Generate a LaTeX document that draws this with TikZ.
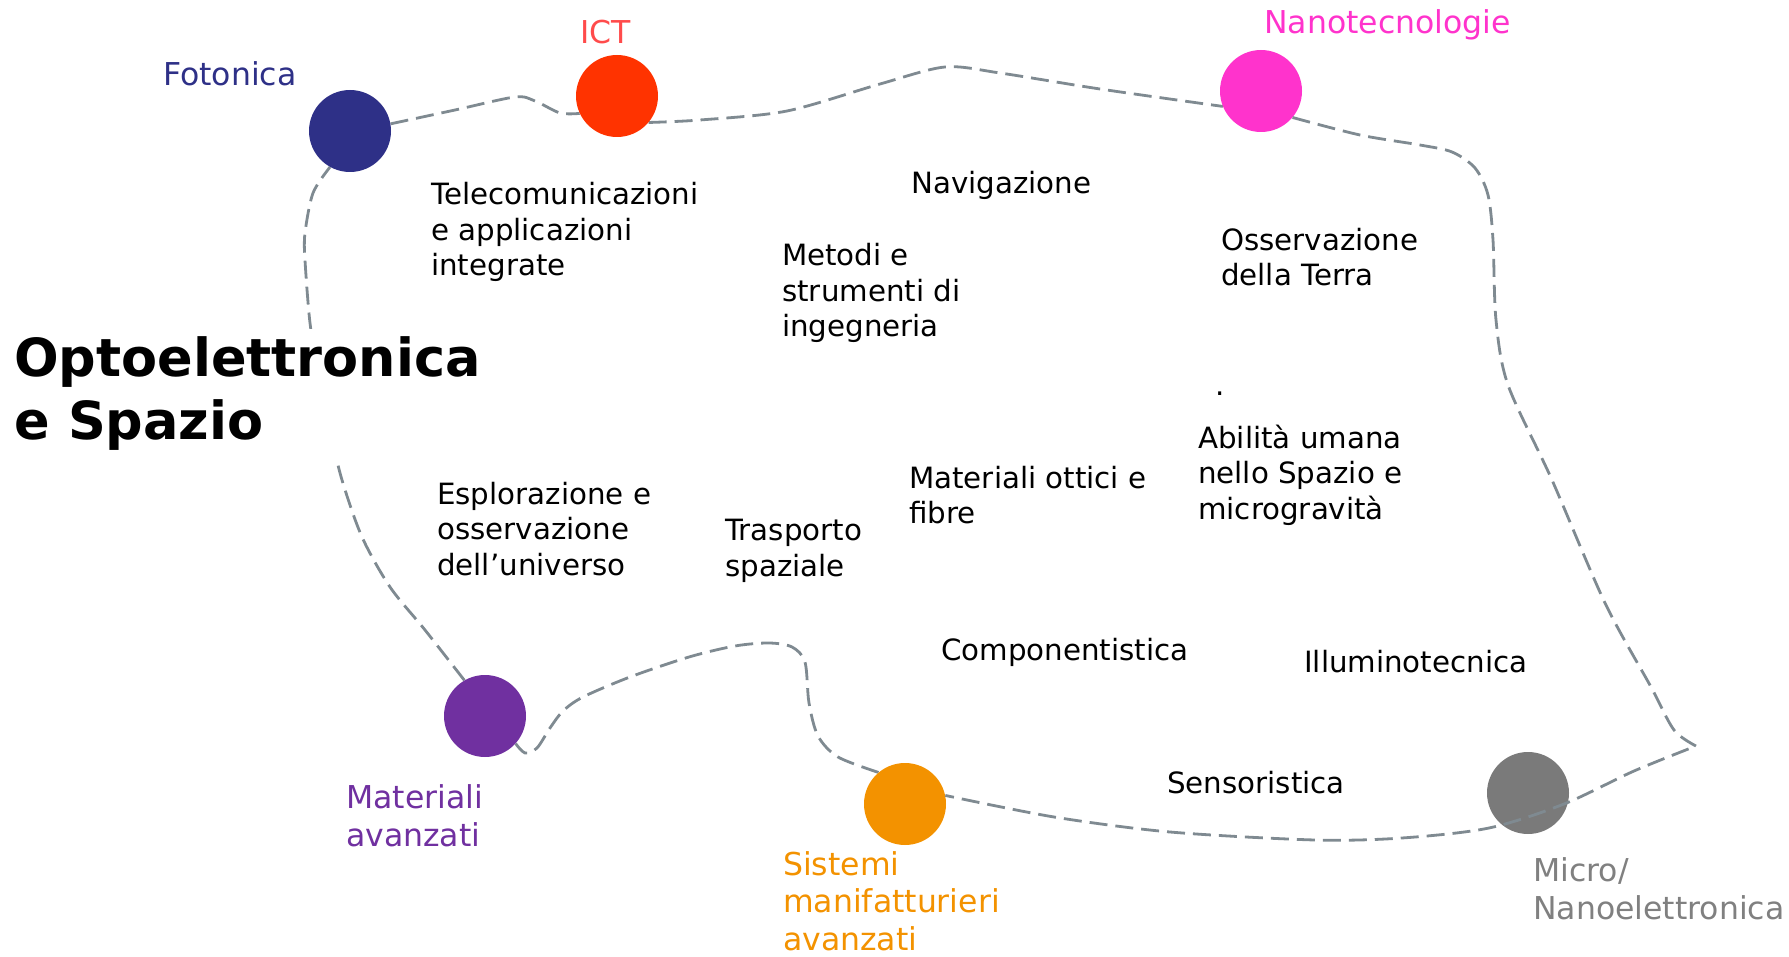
\documentclass[tikz,border=0pt]{standalone}
\usepackage{fontspec}
\setmainfont{DejaVu Sans}
\usetikzlibrary{backgrounds}
\definecolor{fotblue}{HTML}{2E3087}
\definecolor{ictcirc}{HTML}{FF3300}
\definecolor{ictlab}{HTML}{FF4B4B}
\definecolor{nanopink}{HTML}{FF33CC}
\definecolor{matpurple}{HTML}{7030A0}
\definecolor{sisorange}{HTML}{F39200}
\definecolor{micgrey}{HTML}{7A7A7A}
\definecolor{miclab}{HTML}{808080}
\definecolor{linegrey}{HTML}{7F8A91}
\tikzset{
  dot/.style={circle, minimum size=82pt, inner sep=0pt, draw=none},
  body/.style={anchor=west, inner sep=0pt, align=left, text=black,
    font=\fontsize{29.3}{35.5}\selectfont},
  catlab/.style={anchor=west, inner sep=0pt, align=left,
    font=\fontsize{31.5}{38}\selectfont},
  conn/.style={draw=linegrey, line width=2.8pt, dash pattern=on 18pt off 8pt}
}
\begin{document}
\begin{tikzpicture}[x=1pt,y=-1pt]
\useasboundingbox (0,0) rectangle (1789,957);

% circles
\node[dot, fill=fotblue]    (fot) at (350,131) {};
\node[dot, fill=ictcirc]    (ict) at (617,96) {};
\node[dot, fill=nanopink]   (nano) at (1261,91) {};
\node[dot, fill=matpurple]  (mat) at (485,716) {};
\node[dot, fill=sisorange]  (sis) at (905,804) {};
\node[dot, fill=micgrey]    (mic) at (1528,793) {};
\coordinate (corner) at (1696,746);

% connectors behind the circles
\begin{scope}[on background layer]
\draw[conn] plot[smooth, tension=0.5] coordinates
  {(fot.10) (455,110) (515,97) (535,101) (560,113) (ict.205)};
\draw[conn] plot[smooth, tension=0.5] coordinates
  {(ict.-40) (700,120) (787,111) (880,84) (945,67) (1000,73) (1100,89) (nano.202)};
\draw[conn] plot[smooth, tension=0.5] coordinates
  {(sis.130) (838,757) (818,736) (809,703) (805,662) (792,647) (769,643) (735,646)
   (689,657) (630,677) (583,697) (563,711) (550,728) (537,748) (525,753) (mat.-42)};
\draw[conn] plot[smooth, tension=0.5] coordinates
  {(mat.120) (425,630) (390,587) (362,537) (342,480) (330,430) (318,370) (310,323)
   (305,260) (305,233) (313,193) (fot.241)};
\end{scope}

% connector drawn over the grey circle
\draw[conn] plot[smooth, tension=0.5] coordinates
  {(nano.-40) (1360,135) (1420,145) (1452,152) (1475,168) (1488,195) (1493,240)
   (1496,320) (1508,385) (1552,480) (1605,603) (1651,687) (1674,730) (corner)}
  -- plot[smooth, tension=0.5] coordinates
  {(corner) (1634,771) (1564,804) (1489,828) (1402,838) (1315,840) (1170,832)
   (1054,817) (sis.12)};

% title
\node[anchor=west, inner sep=8pt, fill=white, align=left,
  font=\fontsize{52.5}{63}\selectfont\bfseries] (title) at (6,394)
  {Optoelettronica\\e Spazio};

% category labels
\node[catlab, text=fotblue]   (fotlab)  at (163,74) {Fotonica};
\node[catlab, text=ictlab]    (ictlab)  at (580,32) {ICT};
\node[catlab, text=nanopink]  (nanolab) at (1264,25) {Nanotecnologie};
\node[catlab, text=matpurple] (matlab)  at (346,816) {Materiali\\avanzati};
\node[catlab, text=sisorange, font=\fontsize{31.5}{37.5}\selectfont]
  (sislab)  at (783,901) {Sistemi\\manifatturieri\\avanzati};
\node[catlab, text=miclab]    (miclb)   at (1533,889) {Micro/\\Nanoelettronica};

% application texts
\node[body] (tele)   at (431,232) {Telecomunicazioni\\e applicazioni\\integrate};
\node[body] (nav)    at (911,185) {Navigazione};
\node[body] (metodi) at (782,293) {Metodi e\\strumenti di\\ingegneria};
\node[body] (oss)    at (1221,257) {Osservazione\\della Terra};
\node[anchor=base west, inner sep=0pt, font=\fontsize{29.3}{35.5}\selectfont]
  (punto) at (1215,396) {.};
\node[body] (abil)   at (1198,475) {Abilità umana\\nello Spazio e\\microgravità};
\node[body] (matott) at (909,495) {Materiali ottici e\\fibre};
\node[body] (espl)   at (437,529) {Esplorazione e\\osservazione\\dell’universo};
\node[body] (trasp)  at (725,551) {Trasporto\\spaziale};
\node[body] (comp)   at (941,652) {Componentistica};
\node[body] (illum)  at (1304,662) {Illuminotecnica};
\node[body] (sens)   at (1167,783) {Sensoristica};
\end{tikzpicture}
\end{document}
